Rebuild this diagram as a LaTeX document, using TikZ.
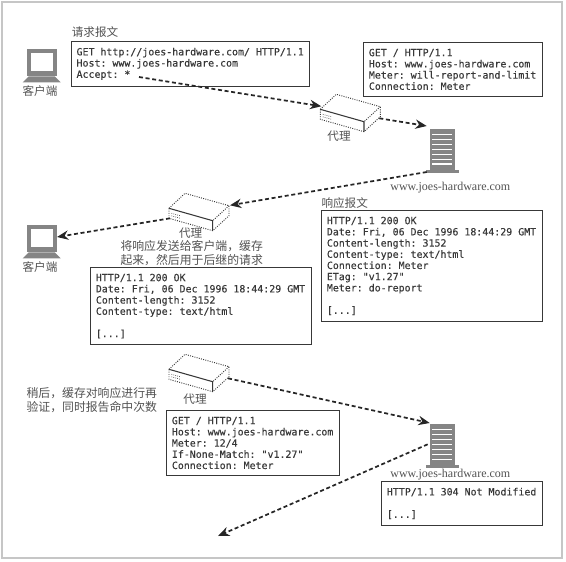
\documentclass[tikz,border=0pt]{standalone}
\usepackage{fontspec}
\setmainfont{Liberation Serif}
\newfontfamily\msgfont[FakeBold=0.2]{DejaVu Sans Mono}
\newfontfamily\cjkfont{Noto Sans CJK SC}
\usetikzlibrary{arrows.meta}

\definecolor{inkgray}{gray}{0.22}
\definecolor{icongray}{gray}{0.52}
\definecolor{labelgray}{gray}{0.32}
\newcommand{\cjkcomma}{\char"FF0C{}}

\tikzset{
  msgbox/.style={draw=inkgray,line width=0.8pt,fill=white,anchor=north west,
    inner xsep=4pt,inner ysep=4.7pt,text=inkgray,align=left,text width=#1,
    font=\msgfont\fontsize{7.45}{8.4}\selectfont,
    execute at begin node={\frenchspacing\spaceskip=4.485pt\relax}},
  cjklabel/.style={text=labelgray,inner sep=0pt,align=left,
    font=\cjkfont\fontsize{8.7}{10.5}\selectfont},
  hostlabel/.style={text=labelgray,inner sep=0pt,font=\fontsize{9}{10}\selectfont},
  flow/.style={black!85,line width=1.3pt,dash pattern=on 3pt off 2pt,
    -{Stealth[length=8.5pt,width=7pt]}},
  client/.pic={
    \fill[icongray] (0,0) rectangle (30,27);
    \fill[white] (4.3,3.4) rectangle (26,21.4);
    \fill[icongray] (2,27) -- (28,27) -- (34,33) -- (-4,33) -- cycle;
    \coordinate (-e) at (30.3,11.7);
  },
  proxy/.pic={
    \draw[inkgray,densely dotted,line width=0.7pt,fill=white]
      (0,0) -- (16,-15) -- (60,-2.6) -- (60,7.4) -- (43.7,22.4) -- (0,10) -- cycle;
    \draw[inkgray,densely dotted,line width=0.7pt] (60,-2.6) -- (43.7,12.4);
    \draw[inkgray,line width=0.8pt] (0,0) -- (43.7,12.4) -- (43.7,22.4);
    \draw[inkgray,densely dotted,line width=0.5pt]
      (2.5,5) -- (12,7.7) (2.5,7.5) -- (12,10.2);
    \coordinate (-w) at (1,-3);
    \coordinate (-e) at (61,-3);
    \coordinate (-sw) at (1,10);
    \coordinate (-se) at (59,9);
  },
  server/.pic={
    \fill[icongray] (0,0) rectangle (25.6,41);
    \fill[icongray] (-3.4,41) rectangle (29,43.7);
    \foreach \slat in {5.5,10.5,15.5,20.5,25.5,30.5,35} {
      \draw[white,line width=0.9pt] (2.6,\slat) -- (22.6,\slat);
    }
    \coordinate (-nw) at (-3,-3);
    \coordinate (-n) at (0,-1.3);
    \coordinate (-w) at (-2,20);
    \coordinate (-sw) at (-3,43);
  },
}

\begin{document}
\begin{tikzpicture}[x=0.75pt,y=-0.75pt]
\useasboundingbox (0,0) rectangle (566,561);

\draw[gray!45,line width=0.8pt] (2,2) rectangle (562,558); % outer frame

\begin{scope} % icons
  \pic (cla) at (26.7,49.3) {client};
  \pic (clb) at (26.7,225.3) {client};
  \pic (pxa) at (320.3,109.3) {proxy};
  \pic (pxb) at (169,208.3) {proxy};
  \pic (pxc) at (169,369.3) {proxy};
  \pic (sva) at (429.7,129) {server};
  \pic (svb) at (429.7,424.3) {server};
\end{scope}

\begin{scope} % icon labels
  \node[cjklabel] (clalabel) at (40,90.7) {客户端};
  \node[cjklabel] (clblabel) at (40,266.7) {客户端};
  \node[cjklabel] (pxalabel) at (339,136) {代理};
  \node[cjklabel] (pxblabel) at (190.7,232.7) {代理};
  \node[cjklabel] (pxclabel) at (195,399) {代理};
  \node[hostlabel] (svalabel) at (450.3,187.3) {www.joes-hardware.com};
  \node[hostlabel] (svblabel) at (450.3,474.3) {www.joes-hardware.com};
\end{scope}

\begin{scope} % captions
  \node[cjklabel] (reqcap) at (95,32.5) {请求报文};
  \node[cjklabel] (respcap) at (344.7,202.7) {响应报文};
  \node[cjklabel,font=\cjkfont\fontsize{8.9}{10.5}\selectfont] (storecap) at (191.7,253)
    {将响应发送给客户端\cjkcomma 缓存\\起来\cjkcomma 然后用于后继的请求};
  \node[cjklabel,font=\cjkfont\fontsize{8.9}{11}\selectfont] (latercap) at (91.8,400)
    {稍后\cjkcomma 缓存对响应进行再\\验证\cjkcomma 同时报告命中次数};
\end{scope}

\begin{scope} % message boxes
  \node[msgbox=227.5pt*0.75] (reqa) at (70.7,41) {GET http://joes-hardware.com/ HTTP/1.1\\
    Host: www.joes-hardware.com\\Accept: *};
  \node[msgbox=168pt*0.75] (reqb) at (363,42) {GET / HTTP/1.1\\Host: www.joes-hardware.com\\
    Meter: will-report-and-limit\\Connection: Meter};
  \node[msgbox=210pt*0.75] (respa) at (321,210) {HTTP/1.1 200 OK\\
    Date: Fri, 06 Dec 1996 18:44:29 GMT\\Content-length: 3152\\
    Content-type: text/html\\Connection: Meter\\ETag: "v1.27"\\Meter: do-report\\[8.4pt]{[...]}};
  \node[msgbox=210pt*0.75] (respb) at (90,267) {HTTP/1.1 200 OK\\
    Date: Fri, 06 Dec 1996 18:44:29 GMT\\Content-length: 3152\\
    Content-type: text/html\\[8.4pt]{[...]}};
  \node[msgbox=162pt*0.75] (reqc) at (166,410) {GET / HTTP/1.1\\Host: www.joes-hardware.com\\
    Meter: 12/4\\If-None-Match: "v1.27"\\Connection: Meter};
  \node[msgbox=150pt*0.75] (respc) at (381,481) {HTTP/1.1 304 Not Modified\\[8.4pt]{[...]}};
\end{scope}

\coordinate (flowstart) at (139,77);
\coordinate (flowend) at (218,536);

\begin{scope}[flow] % message flow
  \draw (flowstart) -- (pxa-w);
  \draw (pxa-se) -- (sva-nw);
  \draw (sva-sw) -- (pxb-e);
  \draw (pxb-sw) -- (clb-e);
  \draw (pxc-se) -- (svb-n);
  \draw (svb-w) -- (flowend);
\end{scope}

\end{tikzpicture}
\end{document}
